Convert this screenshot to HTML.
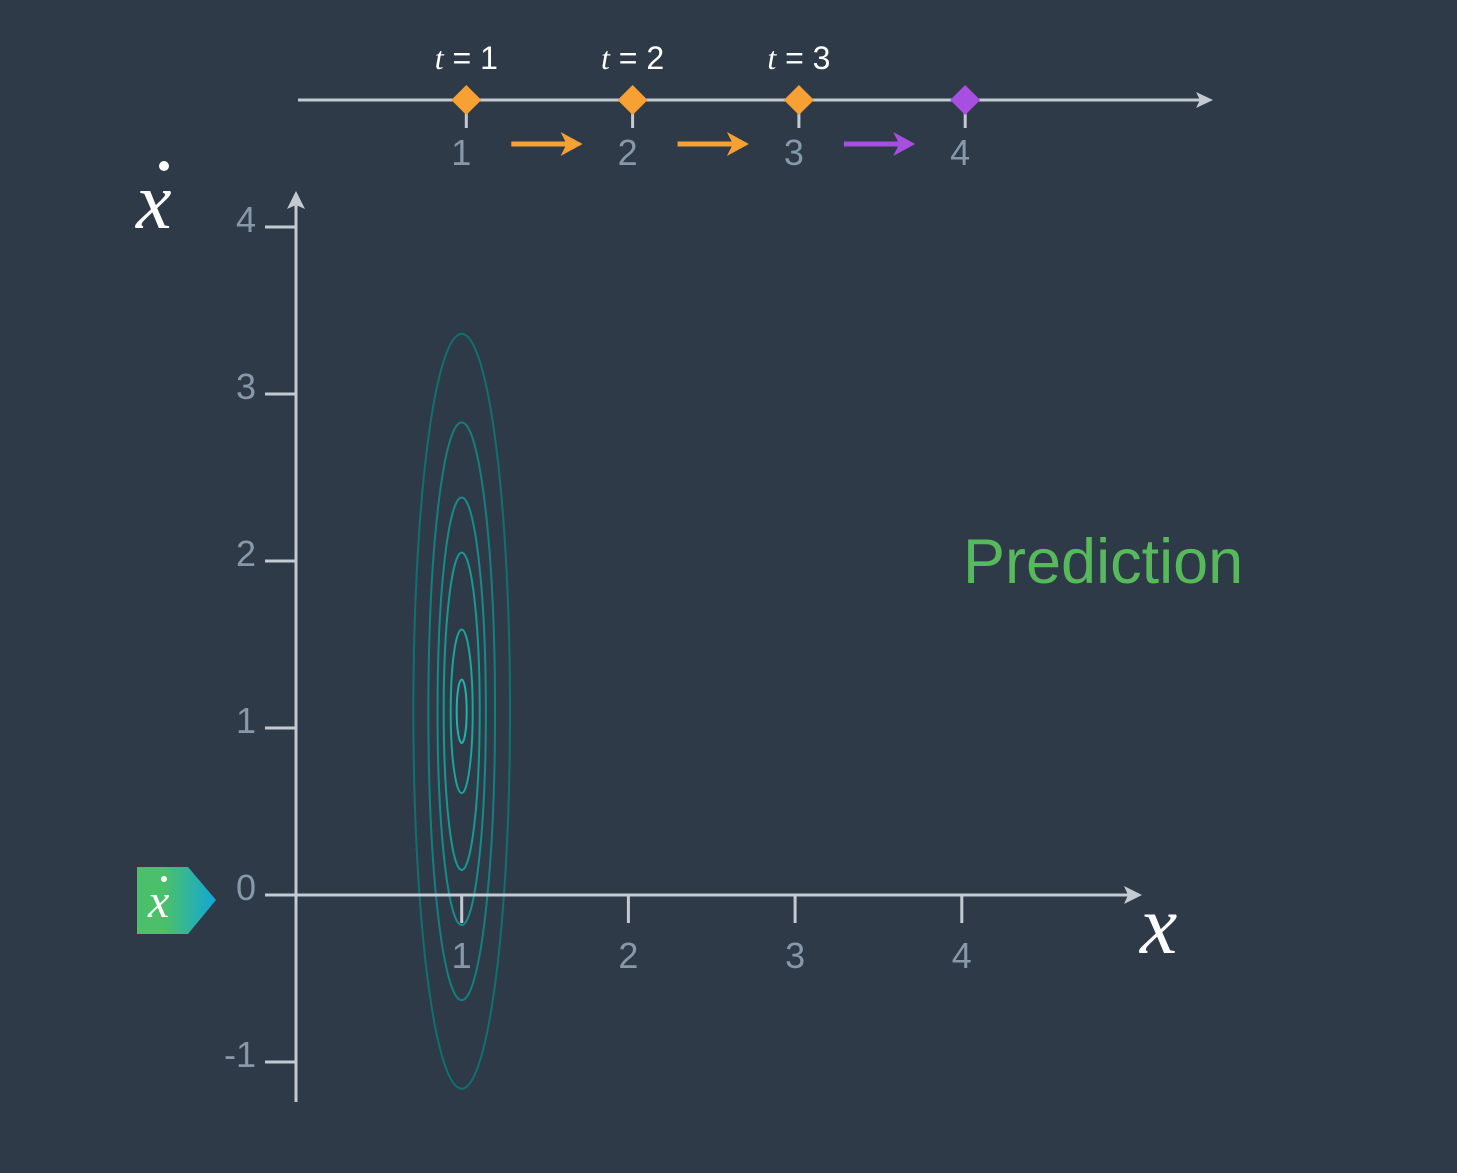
<!DOCTYPE html>
<html><head><meta charset="utf-8"><style>
html,body{margin:0;padding:0;background:#2e3a47;}
svg{display:block;}
.tk{font-family:"Liberation Sans",sans-serif;font-size:36px;fill:#8798a8;}
</style></head><body>
<svg id="chart" width="1457" height="1173" viewBox="0 0 1457 1173" xmlns="http://www.w3.org/2000/svg">
<defs>
<linearGradient id="bg" x1="0" x2="1" y1="0" y2="0"><stop offset="0.35" stop-color="#4cbf6a"/><stop offset="1" stop-color="#10a8d8"/></linearGradient>
</defs>
<g id="topg"></g>
<g id="main"></g>
<text x="963" y="583" font-family="Liberation Sans, sans-serif" font-size="63" fill="#57b95c">Prediction</text>
<g>
<text x="136" y="228" font-family="Liberation Serif, serif" font-style="italic" font-size="80" fill="#ffffff">x</text>
<circle cx="164" cy="166" r="5" fill="#ffffff"/>
</g>
<text x="1140" y="953" font-family="Liberation Serif, serif" font-style="italic" font-size="84" fill="#ffffff">x</text>
<g>
<path d="M137 867 L188 867 L216 900 L188 934 L137 934 Z" fill="url(#bg)"/>
<text x="148" y="917" font-family="Liberation Serif, serif" font-style="italic" font-size="48" fill="#ffffff">x</text>
<circle cx="164" cy="879" r="3" fill="#ffffff"/>
</g>
</svg>
<script>
const xTicks=[1,2,3,4];
const yTicks=[-1,0,1,2,3,4];
const timeSteps=[1,2,3,4];
const timeLabels=["t = 1","t = 2","t = 3"];
const stepColors=["#f7a034","#f7a034","#f7a034","#a64fe0"];
const arrowColors=["#f7a034","#f7a034","#a64fe0"];
const meanX=1, meanY=1.1;
const sigmaX=[0.29,0.2,0.145,0.108,0.066,0.03];
const sigmaY=[2.26,1.73,1.28,0.95,0.49,0.19];
const contourColors=["#11706f","#13807d","#158c88","#179892","#1aa59d","#1fb3aa"];
const NS="http://www.w3.org/2000/svg";
const X=v=>295+v*166.7, Y=v=>895-v*167;
const TX=v=>300+v*166.3;
function mk(p,tag,a){const e=document.createElementNS(NS,tag);for(const k in a)e.setAttribute(k,a[k]);p.appendChild(e);return e;}
const mainG=document.getElementById('main'), tg=document.getElementById('topg');
const ax="#c3cad2";
sigmaX.forEach((s,i)=>{
 const e=mk(mainG,'ellipse',{cx:X(meanX),cy:Y(meanY),rx:s*166.7,ry:sigmaY[i]*167,fill:'none',stroke:contourColors[i],'stroke-width':2});
 
 
});
const xa=mk(mainG,'line',{x1:265,y1:895,x2:1132,y2:895,stroke:ax,'stroke-width':3});


mk(mainG,'path',{d:'M1142 895 L1124 886 L1128 895 L1124 904 Z',fill:ax});
const ya=mk(mainG,'line',{x1:296,y1:1102,x2:296,y2:200,stroke:ax,'stroke-width':3});


mk(mainG,'path',{d:'M296 191 L287 209 L296 205 L305 209 Z',fill:ax});
xTicks.forEach(v=>{
 mk(mainG,'line',{x1:X(v),y1:895,x2:X(v),y2:923,stroke:ax,'stroke-width':3});
 const t=mk(mainG,'text',{x:X(v),y:968,'text-anchor':'middle',class:'tk'});t.textContent=v;
 
 
});
yTicks.forEach(v=>{
 if(v!==0) mk(mainG,'line',{x1:265,y1:Y(v),x2:296,y2:Y(v),stroke:ax,'stroke-width':3});
 const t=mk(mainG,'text',{x:256,y:Y(v)+5,'text-anchor':'end',class:'tk'});t.textContent=v;
 
 
});
const tl=mk(tg,'line',{x1:298,y1:100,x2:1202,y2:100,stroke:ax,'stroke-width':3});


mk(tg,'path',{d:'M1213 100 L1196 92 L1200 100 L1196 108 Z',fill:ax});
timeSteps.forEach((v,i)=>{
 const x=TX(v);
 mk(tg,'line',{x1:x,y1:100,x2:x,y2:128,stroke:ax,'stroke-width':3});
 const d=mk(tg,'path',{d:`M${x} 85 L${x+15} 100 L${x} 115 L${x-15} 100 Z`,fill:stepColors[i]});
 
 
 const t=mk(tg,'text',{x:x-5,y:165,'text-anchor':'middle',class:'tk'});t.textContent=v;
 
 
 if(i<timeLabels.length){
  const l=mk(tg,'text',{x:x,y:69,'text-anchor':'middle','font-family':'Liberation Sans, sans-serif','font-size':32,fill:'#ffffff'});
  l.innerHTML='<tspan font-family="Liberation Serif, serif" font-style="italic">t</tspan>'+timeLabels[i].slice(1);
  
  
 }
});
arrowColors.forEach((c,i)=>{
 const x0=TX(timeSteps[i])+45, x1=TX(timeSteps[i+1])-50;
 const g=mk(tg,'g',{});
 
 
 mk(g,'line',{x1:x0,y1:144,x2:x1-14,y2:144,stroke:c,'stroke-width':5});
 mk(g,'path',{d:`M${x1} 144 L${x1-22} 132 L${x1-16} 144 L${x1-22} 156 Z`,fill:c});
});
</script>
</body></html>
